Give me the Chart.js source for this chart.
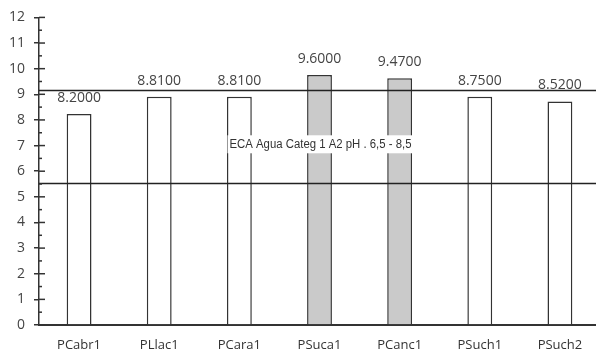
<!DOCTYPE html>
<html>
<head>
<meta charset="utf-8">
<script src="https://cdn.jsdelivr.net/npm/chart.js@4/dist/chart.umd.min.js"></script>
<style>
    body { margin: 0; background: #fff; overflow: hidden; }
    #wrap { width: 600px; height: 358px; }
</style>
</head>
<body>
<div id="wrap"><canvas id="phChart"></canvas></div>
<script>
// categories and values
const stations = ['PCabr1', 'PLlac1', 'PCara1', 'PSuca1', 'PCanc1', 'PSuch1', 'PSuch2'];
const phValues = [8.23, 8.9, 8.9, 9.75, 9.63, 8.9, 8.72];
const phLabels = ['8.2000', '8.8100', '8.8100', '9.6000', '9.4700', '8.7500', '8.5200'];
const barFills = ['#ffffff', '#ffffff', '#ffffff', '#cacaca', '#cacaca', '#ffffff', '#ffffff'];
const limitLines = [5.52, 9.15];
const noteText = 'ECA Agua Categ 1 A2 pH . 6,5 - 8,5';

const ink = '#333';

const extrasPlugin = {
    id: 'extras',
    afterDatasetsDraw(chart) {
        const ctx = chart.ctx;
        const area = chart.chartArea;
        const x = chart.scales.x;
        const y = chart.scales.y;

        // limit lines across the whole plot
        ctx.save();
        ctx.strokeStyle = '#222';
        ctx.lineWidth = 1.5;
        limitLines.forEach(v => {
            const py = y.getPixelForValue(v);
            ctx.beginPath();
            ctx.moveTo(area.left, py);
            ctx.lineTo(area.right, py);
            ctx.stroke();
        });

        // value labels above bars
        ctx.fillStyle = '#444';
        ctx.font = '14px "Open Sans"';
        ctx.textAlign = 'center';
        ctx.textBaseline = 'middle';
        chart.getDatasetMeta(0).data.forEach((bar, i) => {
            ctx.fillText(phLabels[i], bar.x, bar.y - 16);
        });

        // annotation box
        ctx.font = '12px "Liberation Sans Narrow", "Liberation Sans", Arial, sans-serif';
        const w = ctx.measureText(noteText).width;
        const target = 182;
        const cx = x.getPixelForValue(3) + 1;
        const cy = y.getPixelForValue(7.05);
        ctx.fillStyle = '#fff';
        ctx.fillRect(cx - target / 2 - 2, cy - 9, target + 4, 18);
        ctx.translate(cx, cy);
        ctx.scale(target / w, 1);
        ctx.fillStyle = '#333';
        ctx.fillText(noteText, 0, 0);
        ctx.restore();
    },
    afterDraw(chart) {
        // right half of major ticks and minor half-unit ticks
        const ctx = chart.ctx;
        const y = chart.scales.y;
        const ax = chart.chartArea.left;
        ctx.save();
        ctx.strokeStyle = ink;
        ctx.lineWidth = 1.5;
        for (let v = 0; v <= 12; v += 0.5) {
            const py = y.getPixelForValue(v);
            const len = Number.isInteger(v) ? 6 : 3;
            ctx.beginPath();
            ctx.moveTo(ax, py);
            ctx.lineTo(ax + len, py);
            ctx.stroke();
        }
        ctx.restore();
    }
};

new Chart(document.getElementById('phChart'), {
    type: 'bar',
    data: {
        labels: stations,
        datasets: [{
            data: phValues,
            backgroundColor: barFills,
            borderColor: ink,
            borderWidth: 1.5,
            barPercentage: 0.31,
            categoryPercentage: 1,
        }],
    },
    options: {
        responsive: true,
        maintainAspectRatio: false,
        animation: false,
        layout: {
            padding: { left: 0, top: 5, right: 0, bottom: 0 },
        },
        plugins: {
            legend: { display: false },
            tooltip: { enabled: false },
        },
        scales: {
            x: {
                grid: { display: false, drawTicks: false, tickLength: 0 },
                border: { color: ink, width: 2 },
                ticks: {
                    color: '#333',
                    padding: 12,
                    font: { family: 'Open Sans', size: 13 },
                },
                afterFit(scale) {
                    scale.height = 33;
                },
            },
            y: {
                min: 0,
                max: 12,
                grid: {
                    drawOnChartArea: false,
                    drawTicks: true,
                    tickLength: 5,
                    color: ink,
                    lineWidth: 1.5,
                },
                border: { color: ink, width: 1.5 },
                ticks: {
                    stepSize: 1,
                    color: '#444',
                    padding: 9,
                    font: { family: 'Open Sans', size: 14 },
                },
            },
        },
    },
    plugins: [extrasPlugin],
});
</script>
</body>
</html>
